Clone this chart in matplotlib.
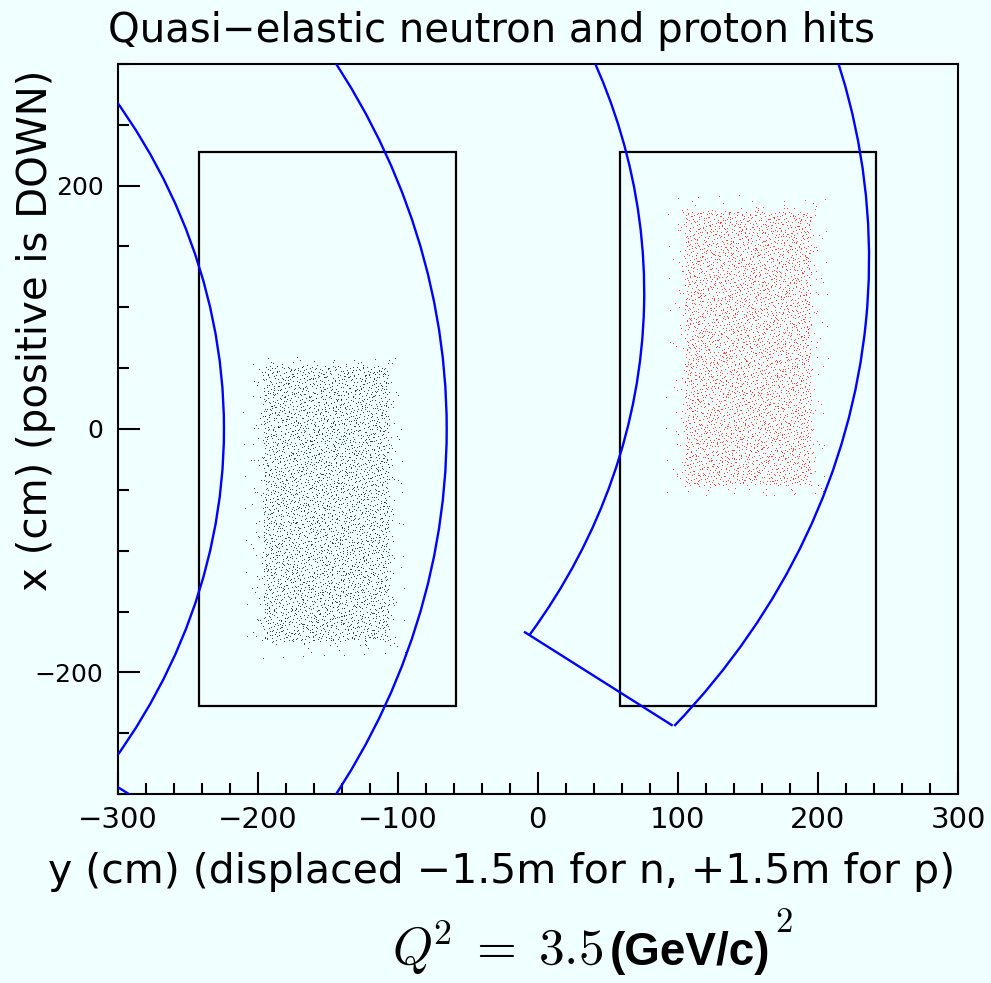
import numpy as np
import matplotlib
matplotlib.use("Agg")
import matplotlib.pyplot as plt
from matplotlib.patches import Rectangle, Arc
from matplotlib.ticker import MultipleLocator

plt.rcParams["mathtext.fontset"] = "cm"

# ---------------- data ----------------
title_text = "Quasi\u2212elastic neutron and proton hits"
xlabel_text = "y (cm) (displaced \u22121.5m for n, +1.5m for p)"
ylabel_text = "x (cm) (positive is DOWN)"

# detector boxes: horizontal extent (y, cm) and vertical extent (x, cm)
box_n_h = [-241.5, -58.5]
box_p_h = [58.5, 241.5]
box_v = [-228.0, 228.0]

# blue acceptance arcs: centre (h, v), radius (cm), start/end angle (deg)
arc_center_h = [-735.0, -675.0, -448.0, -363.5]
arc_center_v = [0.0, 0.0, 112.0, 140.0]
arc_radius = [511.0, 610.0, 524.0, 600.0]
arc_theta1 = [-40.0, -35.0, -32.45, -39.8]
arc_theta2 = [40.0, 35.0, 30.0, 30.0]

# straight blue segments (h, v)
seg1_h = [-9.1, 95.6]
seg1_v = [-167.1, -243.3]
seg2_h = [-300.2, -290.9]
seg2_v = [-294.1, -300.7]

# hit clouds: dense core extent and number of hits
n_core_h = [-196.0, -106.0]
n_core_v = [-174.0, 52.0]
p_core_h = [105.0, 195.0]
p_core_v = [-46.0, 179.0]
n_hits_core = 2800
n_hits_fringe = [450, 300, 150]
fringe_margin = [4.0, 9.0, 15.0]

# ---------------- helpers ----------------
def halton(n, base, skip=0):
    out = np.empty(n)
    for i in range(n):
        f, r, k = 1.0, 0.0, i + 1 + skip
        while k > 0:
            f /= base
            r += f * (k % base)
            k //= base
        out[i] = r
    return out


def fill_box(h0, h1, v0, v1, n, b1, b2, skip):
    u = halton(n, b1, skip)
    v = halton(n, b2, skip)
    return h0 + u * (h1 - h0), v0 + v * (v1 - v0)


def cloud(core_h, core_v, skip):
    hs, vs = [], []
    h, v = fill_box(core_h[0], core_h[1], core_v[0], core_v[1], n_hits_core, 2, 3, skip)
    hs.append(h); vs.append(v)
    for (nf, m, bases) in zip(n_hits_fringe, fringe_margin, [(5, 7), (11, 13), (17, 19)]):
        h, v = fill_box(core_h[0] - m, core_h[1] + m, core_v[0] - m, core_v[1] + m,
                        nf, bases[0], bases[1], skip)
        hs.append(h); vs.append(v)
    return np.concatenate(hs), np.concatenate(vs)


# ---------------- figure ----------------
bg = "#f0ffff"
fig = plt.figure(figsize=(9.91, 9.83), dpi=100, facecolor=bg)
W, H = 991.0, 983.0
ax = fig.add_axes([117.5 / W, 1 - 794 / H, (958 - 117.5) / W, (794 - 64) / H])
ax.set_facecolor(bg)
ax.set_xlim(-300, 300)
ax.set_ylim(-300, 300)

# boxes
for bh in (box_n_h, box_p_h):
    ax.add_patch(Rectangle((bh[0], box_v[0]), bh[1] - bh[0], box_v[1] - box_v[0],
                           fill=False, edgecolor="black", linewidth=1.6, zorder=3))

# hits
nh, nv = cloud(n_core_h, n_core_v, 17)
ph, pv = cloud(p_core_h, p_core_v, 911)
ax.plot(nh, nv, "s", ms=0.5, mew=0, color="#000000", zorder=2)
ax.plot(ph, pv, "s", ms=0.5, mew=0, color="#ff0000", zorder=2)

# arcs
for ch, cv, r, t1, t2 in zip(arc_center_h, arc_center_v, arc_radius,
                             arc_theta1, arc_theta2):
    ax.add_patch(Arc((ch, cv), 2 * r, 2 * r, theta1=t1, theta2=t2,
                     edgecolor="#0000ff", linewidth=1.7, zorder=4))
for hh, vv in ((seg1_h, seg1_v), (seg2_h, seg2_v)):
    ax.plot(hh, vv, color="#0000ff", linewidth=1.7, zorder=4)

# axes styling
for s in ax.spines.values():
    s.set_linewidth(1.5)
    s.set_color("black")
ax.xaxis.set_major_locator(MultipleLocator(100))
ax.xaxis.set_minor_locator(MultipleLocator(20))
ax.yaxis.set_major_locator(MultipleLocator(200))
ax.yaxis.set_minor_locator(MultipleLocator(50))
ax.tick_params(which="both", direction="in", top=False, right=False, width=1.5,
               colors="black")
ax.tick_params(which="major", length=16)
ax.tick_params(which="minor", length=8)
ax.tick_params(axis="x", which="major", pad=9, labelsize=21)
ax.tick_params(axis="y", which="major", pad=10, labelsize=18)

# texts
fig.text(108 / W, 1 - 42 / H, title_text, fontsize=29, ha="left", va="baseline")
fig.text(955 / W, 1 - 883 / H, xlabel_text, fontsize=29.5, ha="right", va="baseline")
fig.text(36 / W, 1 - 330 / H, ylabel_text, fontsize=29, rotation=90,
         ha="center", va="center")

fig.text(603 / W, 1 - 965 / H, r"$Q^{\!2}\;=\;3.5$", fontsize=37, ha="right",
         va="baseline")
fig.text(610 / W, 1 - 965 / H, "(GeV/c)", fontsize=33, fontweight="bold",
         family="Liberation Sans", ha="left", va="baseline")
fig.text(775 / W, 1 - 932 / H, r"$2$", fontsize=25, ha="left", va="baseline")

fig.savefig("out.png", dpi=100, facecolor=bg)
